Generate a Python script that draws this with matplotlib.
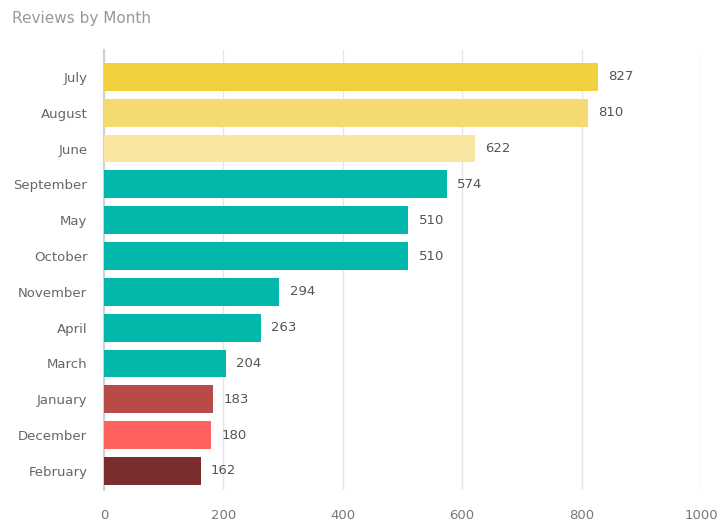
import matplotlib.pyplot as plt

# Review counts per month, sorted high to low
months = ["July", "August", "June", "September", "May", "October",
          "November", "April", "March", "January", "December", "February"]
reviews = [827, 810, 622, 574, 510, 510, 294, 263, 204, 183, 180, 162]
colors = ["#F2D13F", "#F5DB6F", "#F9E7A1", "#01B8AA", "#01B8AA", "#01B8AA",
          "#01B8AA", "#01B8AA", "#01B8AA", "#B84A48", "#FD625E", "#7B2D2D"]
xticks = [0, 200, 400, 600, 800, 1000]

fig = plt.figure(figsize=(7.2, 5.25), dpi=100)
ax = fig.add_axes([0.1444, 0.0667, 0.8292, 0.8381])

pos = list(range(len(months)))
ax.barh(pos, reviews, height=0.78, color=colors, zorder=3)

for y, v in zip(pos, reviews):
    ax.text(v + 17, y, str(v), va="center", ha="left", fontsize=9.5,
            color="#555555", family=["Liberation Sans Narrow", "DejaVu Sans"])

ax.set_xlim(0, 1000)
ax.set_ylim(11.53, -0.75)
ax.set_yticks(pos)
ax.set_yticklabels(months)
ax.set_xticks(xticks)
ax.grid(axis="x", color="#E6E6E6", linewidth=1, zorder=0)
for s in ["top", "right", "bottom"]:
    ax.spines[s].set_visible(False)
ax.spines["left"].set_color("#D0D0D0")
ax.spines["left"].set_linewidth(1.5)
ax.tick_params(axis="y", length=0, pad=12, labelsize=9.5, labelcolor="#666666")
ax.tick_params(axis="x", length=0, pad=14, labelsize=9.5, labelcolor="#777777")

fig.text(0.017, 0.965, "Reviews by Month", fontsize=11, color="#999999",
         va="center", ha="left")

fig.savefig("out.png", dpi=100)
